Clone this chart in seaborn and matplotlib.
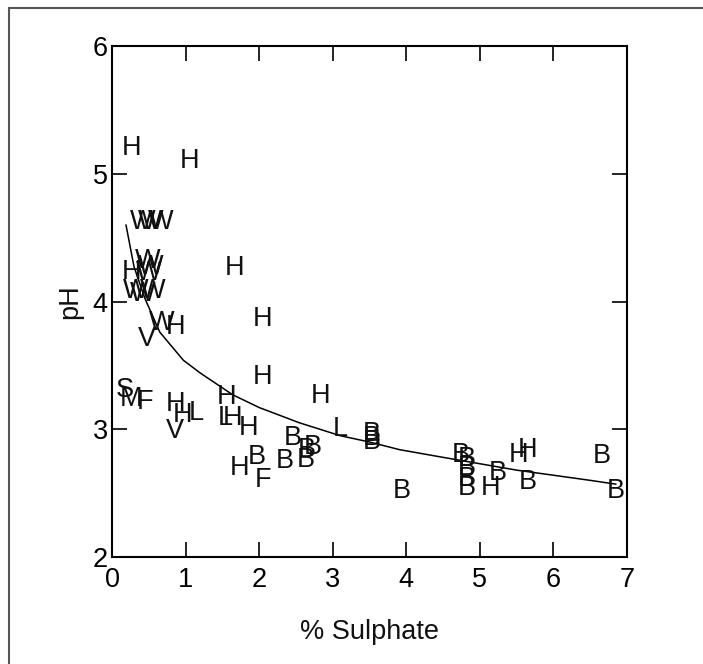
import matplotlib
matplotlib.use("Agg")
import matplotlib.pyplot as plt
from matplotlib.lines import Line2D
import seaborn as sns
import pandas as pd

# site codes plotted as letters
site = ["H", "H",
        "W", "W", "W",
        "H", "W", "W", "W",
        "W", "W", "W",
        "W", "H", "V",
        "H", "H", "H", "H",
        "S", "M", "F",
        "H", "H", "L", "V",
        "H", "L", "H", "H",
        "B", "H", "F", "B",
        "B", "B", "B", "B",
        "L", "B", "B", "B",
        "B",
        "B", "B", "B", "B", "B", "H", "B", "B", "H", "H", "B", "B"]
sulphate = [0.26, 1.06,
            0.42, 0.52, 0.66,
            0.27, 0.48, 0.52, 0.50,
            0.32, 0.42, 0.55,
            0.68, 0.87, 0.48,
            1.66, 2.05, 2.05, 2.84,
            0.18, 0.26, 0.45,
            0.86, 0.96, 1.14, 0.86,
            1.56, 1.54, 1.64, 1.85,
            1.97, 1.74, 2.05, 2.35,
            2.45, 2.65, 2.73, 2.64,
            3.11, 3.53, 3.53, 3.53,
            3.94,
            4.74, 4.82, 4.82, 4.82, 4.82, 5.15, 5.24, 5.65, 5.52, 5.65, 6.66, 6.85]
ph = [5.20, 5.10,
      4.62, 4.62, 4.62,
      4.23, 4.32, 4.27, 4.22,
      4.08, 4.06, 4.08,
      3.83, 3.80, 3.71,
      4.26, 3.86, 3.41, 3.26,
      3.31, 3.24, 3.21,
      3.20, 3.11, 3.13, 2.99,
      3.25, 3.09, 3.09, 3.01,
      2.78, 2.70, 2.60, 2.75,
      2.93, 2.84, 2.86, 2.76,
      3.00, 2.96, 2.93, 2.90,
      2.52,
      2.80, 2.77, 2.70, 2.61, 2.54, 2.54, 2.66, 2.59, 2.80, 2.84, 2.79, 2.52]

# fitted curve
curve_x = [0.19, 0.30, 0.45, 0.65, 0.97, 1.20, 1.64, 2.00, 2.55, 3.10,
           3.50, 3.91, 4.50, 5.00, 5.50, 6.00, 6.50, 6.85]
curve_y = [4.60, 4.27, 4.02, 3.76, 3.54, 3.44, 3.27, 3.17, 3.05, 2.95,
           2.90, 2.84, 2.78, 2.73, 2.68, 2.64, 2.60, 2.57]

df = pd.DataFrame({"sulphate": sulphate, "ph": ph, "site": site})
curve = pd.DataFrame({"x": curve_x, "y": curve_y})

sns.set_style("ticks")
plt.rcParams['font.family'] = ['Liberation Sans', 'DejaVu Sans']
fs = 19.5

fig = plt.figure(figsize=(7.03, 6.64), dpi=100)
ax = fig.add_axes([112 / 703, 1 - 557 / 664, 515 / 703, 511 / 664])

sns.lineplot(data=curve, x="x", y="y", sort=False, estimator=None,
             color="black", linewidth=1.1, ax=ax)

for _, r in df.iterrows():
    ax.text(r["sulphate"], r["ph"], r["site"], ha="center", va="center",
            fontsize=fs, color="#111111")

ax.set_xlim(0, 7)
ax.set_ylim(2, 6)
ax.set_xticks(range(0, 8))
ax.set_yticks(range(2, 7))
ax.tick_params(direction="in", length=11, width=1.2, labelsize=fs,
               top=True, right=True, colors="black")
ax.tick_params(axis="x", pad=7)
ax.tick_params(axis="y", pad=3)
for s in ax.spines.values():
    s.set_visible(True)
    s.set_linewidth(1.5)
    s.set_color("black")
ax.set_xlabel("% Sulphate", fontsize=fs, labelpad=19, color="#111111")
ax.set_ylabel("pH", fontsize=fs, labelpad=7, color="#111111")

# outer frame (only top and left visible in the canvas)
fig.add_artist(Line2D([9 / 703, 1], [1 - 8 / 664, 1 - 8 / 664],
                      transform=fig.transFigure, color="#555555", lw=1.5))
fig.add_artist(Line2D([9 / 703, 9 / 703], [0, 1 - 8 / 664],
                      transform=fig.transFigure, color="#555555", lw=1.5))

fig.savefig("out.png", dpi=100)
plt.close("all")
